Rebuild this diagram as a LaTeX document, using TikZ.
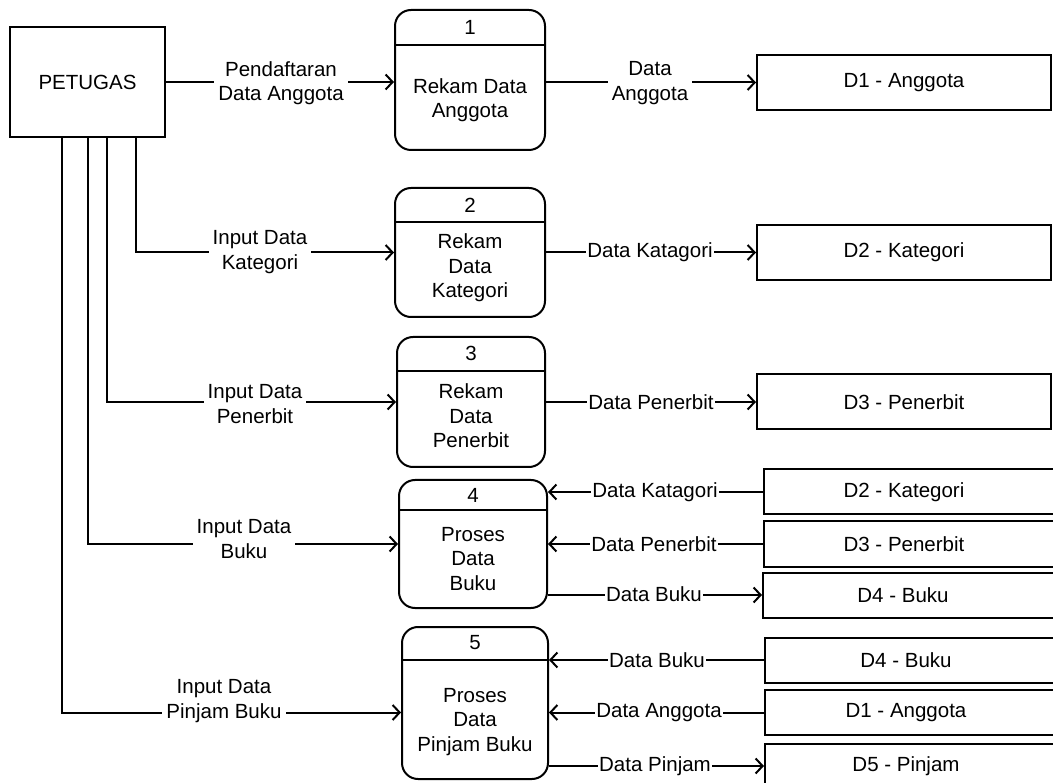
\documentclass[tikz,border=0pt]{standalone}
\usepackage{fontspec}
\setmainfont{Liberation Sans}
\usetikzlibrary{arrows.meta}

\begin{document}
\begin{tikzpicture}[x=1pt,y=-1pt,
  line width=2pt,
  txt/.style={font=\fontsize{20.5}{24.5}\selectfont, align=center, inner sep=0pt},
  entity/.style={draw, minimum width=155pt, minimum height=110pt, txt},
  proc/.style={draw, rounded corners=16pt, inner sep=0pt},
  store/.style={draw, minimum width=294pt, minimum height=55pt, txt},
  storecut/.style={draw, minimum width=300pt, minimum height=45pt, inner sep=0pt},
  flow/.style={-{Straight Barb[length=7pt,width=15pt]}},
  lbl/.style={txt, fill=white, inner sep=4pt},
  slbl/.style={txt, fill=white, inner sep=1pt}
]
\useasboundingbox (0,0) rectangle (1053,783);
\clip (0,0) rectangle (1053,783);

% external entity
\node[entity] (pet) at (87.5,82) {PETUGAS};

% processes: box, header rule, number and name
\node[proc, minimum width=150pt, minimum height=140pt] (p1) at (470,80) {};
\draw (p1.west |- 0,45) -- (p1.east |- 0,45);
\node[txt] (p1n) at (470,27) {1};
\node[txt] (p1t) at (470,100) {Rekam Data\\Anggota};

\node[proc, minimum width=150pt, minimum height=129pt] (p2) at (470,252.5) {};
\draw (p2.west |- 0,222) -- (p2.east |- 0,222);
\node[txt] (p2n) at (470,205) {2};
\node[txt] (p2t) at (470,268) {Rekam\\Data\\Kategori};

\node[proc, minimum width=148pt, minimum height=130pt] (p3) at (471,402) {};
\draw (p3.west |- 0,371) -- (p3.east |- 0,371);
\node[txt] (p3n) at (471,353) {3};
\node[txt] (p3t) at (471,416) {Rekam\\Data\\Penerbit};

\node[proc, minimum width=148pt, minimum height=128pt] (p4) at (473,544) {};
\draw (p4.west |- 0,510) -- (p4.east |- 0,510);
\node[txt] (p4n) at (473,495) {4};
\node[txt] (p4t) at (473,559) {Proses\\Data\\Buku};

\node[proc, minimum width=146pt, minimum height=152pt] (p5) at (475,703) {};
\draw (p5.west |- 0,660) -- (p5.east |- 0,660);
\node[txt] (p5n) at (475,643) {5};
\node[txt] (p5t) at (475,722) {Proses\\Data\\Pinjam Buku};

% data stores
\node[store] (d1) at (904,82.5) {D1 - Anggota};
\node[store] (d2) at (904,252.5) {D2 - Kategori};
\node[store] (d3) at (904,402) {D3 - Penerbit};
\node[storecut, label={[txt,xshift=-10pt]center:D2 - Kategori}] (d2b) at (914,492) {};
\node[storecut, label={[txt,xshift=-10pt]center:D3 - Penerbit}] (d3b) at (914,544) {};
\node[storecut, label={[txt,xshift=-10pt]center:D4 - Buku}] (d4) at (913,595) {};
\node[storecut, label={[txt,xshift=-9pt]center:D4 - Buku}] (d4b) at (915,660) {};
\node[storecut, label={[txt,xshift=-9pt]center:D1 - Anggota}] (d1b) at (915,712.5) {};
\node[storecut, label={[txt,xshift=-9pt]center:D5 - Pinjam}] (d5) at (915,766) {};

% drop points under the entity
\path (pet.south west) ++(127,0) coordinate (v2);
\path (pet.south west) ++(98,0) coordinate (v3);
\path (pet.south west) ++(79,0) coordinate (v4);
\path (pet.south west) ++(53,0) coordinate (v5);

% flows from the entity
\draw[flow] (pet.east) -- (pet.east -| p1.west);
\draw[flow] (v2) |- (p2.west);
\draw[flow] (v3) |- (p3.west);
\draw[flow] (v4) |- (p4.west);
\draw[flow] (v5) |- (p5.west |- d1b);

% flows between processes and stores
\draw[flow] (p1.east |- d1) -- (d1.west);
\draw[flow] (p2.east |- d2) -- (d2.west);
\draw[flow] (p3.east |- d3) -- (d3.west);
\draw[flow] (d2b.west) -- (d2b.west -| p4.east);
\draw[flow] (d3b.west) -- (d3b.west -| p4.east);
\draw[flow] (p4.east |- d4) -- (d4.west);
\draw[flow] (d4b.west) -- (d4b.west -| p5.east);
\draw[flow] (d1b.west) -- (d1b.west -| p5.east);
\draw[flow] (p5.east |- d5) -- (d5.west);

% flow labels
\node[lbl] (l1) at (281,83) {Pendaftaran\\Data Anggota};
\node[lbl] (l2) at (260,252) {Input Data\\Kategori};
\node[lbl] (l3) at (255,404) {Input Data\\Penerbit};
\node[lbl] (l4) at (244,539) {Input Data\\Buku};
\node[lbl] (l5) at (224,701) {Input Data\\Pinjam Buku};
\node[lbl] (r1) at (650,83) {Data\\Anggota};
\node[slbl] (r2) at (650,252) {Data Katagori};
\node[slbl] (r3) at (651,402) {Data Penerbit};
\node[slbl] (r4a) at (655,492) {Data Katagori};
\node[slbl] (r4b) at (654,544) {Data Penerbit};
\node[slbl] (r4c) at (654,594) {Data Buku};
\node[slbl] (r5a) at (657,660) {Data Buku};
\node[slbl] (r5b) at (659,712.5) {Data Anggota};
\node[slbl] (r5c) at (655,766) {Data Pinjam};
\end{tikzpicture}
\end{document}
